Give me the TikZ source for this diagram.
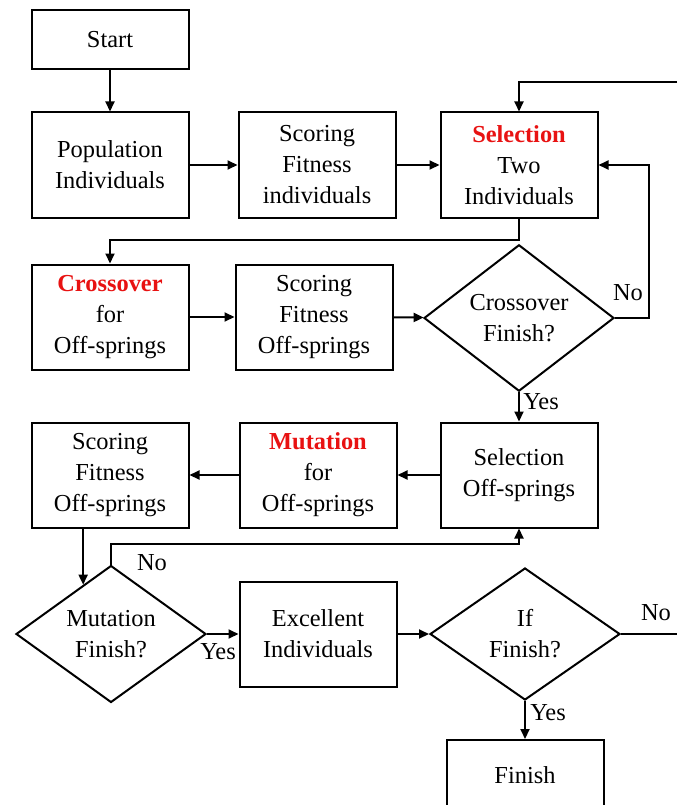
\documentclass[tikz,border=0pt]{standalone}
\usepackage{fontspec}
\setmainfont{Liberation Serif}
\usetikzlibrary{shapes.geometric,arrows.meta,calc}
\definecolor{hl}{RGB}{232,18,18}
\begin{document}
\begin{tikzpicture}[x=1pt,y=-1pt,
  box/.style={draw,line width=2pt,minimum width=157pt,minimum height=105pt,align=center,inner sep=0pt,font=\fontsize{24.4}{31}\selectfont},
  dia/.style={draw,diamond,line width=2pt,minimum width=190pt,minimum height=132pt,align=center,inner sep=0pt,font=\fontsize{24.4}{31}\selectfont},
  arr/.style={line width=2pt,-{Triangle[length=10pt,width=9pt]}},
  ln/.style={line width=2pt},
  lbl/.style={font=\fontsize{24.4}{31}\selectfont,inner sep=0pt}]
\useasboundingbox (0,0) rectangle (677,805);
\node[box,minimum height=59pt] (start) at (110,40) {Start};
\node[box] (pop) at (110,165) {Population\\Individuals};
\node[box] (sfi) at (317,165) {Scoring\\Fitness\\individuals};
\node[box] (sel) at (519,165) {\textcolor{hl}{\textbf{Selection}}\\Two\\Individuals};
\node[box] (cross) at (110,317) {\textcolor{hl}{\textbf{Crossover}}\\for\\Off-springs};
\node[box] (sfo1) at (314,317) {Scoring\\Fitness\\Off-springs};
\node[dia] (cfin) at (519,318) {Crossover\\Finish?};
\node[box] (selo) at (519,475) {Selection\\Off-springs};
\node[box] (mut) at (318,475) {\textcolor{hl}{\textbf{Mutation}}\\for\\Off-springs};
\node[box] (sfo2) at (110,475) {Scoring\\Fitness\\Off-springs};
\node[dia] (mfin) at (111,634) {Mutation\\Finish?};
\node[box] (exc) at (318,634) {Excellent\\Individuals};
\node[dia] (ifin) at (525,634) {If\\Finish?};
\node[box,minimum height=70pt] (fin) at (525,775) {Finish};
\draw[arr] (start) -- (pop);
\draw[arr] (pop) -- (sfi);
\draw[arr] (sfi) -- (sel);
\coordinate (tr) at (677,82);
\draw[arr] (tr) -| (sel.north);
\draw[arr] (sel.south) -- ++(0,21) -| (cross.north);
\draw[arr] (cross) -- (sfo1);
\draw[arr] (sfo1) -- (cfin);
\draw[arr] (cfin.east) -- ++(34,0) |- (sel.east);
\node[lbl] at (628,293) {No};
\draw[arr] (cfin.south) -- (selo.north);
\node[lbl] at (541,402) {Yes};
\draw[arr] (selo) -- (mut);
\draw[arr] (mut) -- (sfo2);
\coordinate (p) at ($(mfin.north)!0.29!(mfin.west)$);
\draw[arr] (sfo2.south -| p) -- (p);
\draw[arr] (mfin.north) -- ++(0,-21) -| (selo.south);
\node[lbl] at (152,563) {No};
\draw[arr] (mfin) -- (exc);
\node[lbl] at (218,652) {Yes};
\draw[arr] (exc) -- (ifin);
\coordinate (r) at (677,634);
\draw[ln] (ifin.east) -- (r);
\node[lbl] at (656,613) {No};
\draw[arr] (ifin.south) -- (fin.north);
\node[lbl] at (548,713) {Yes};
\end{tikzpicture}
\end{document}
